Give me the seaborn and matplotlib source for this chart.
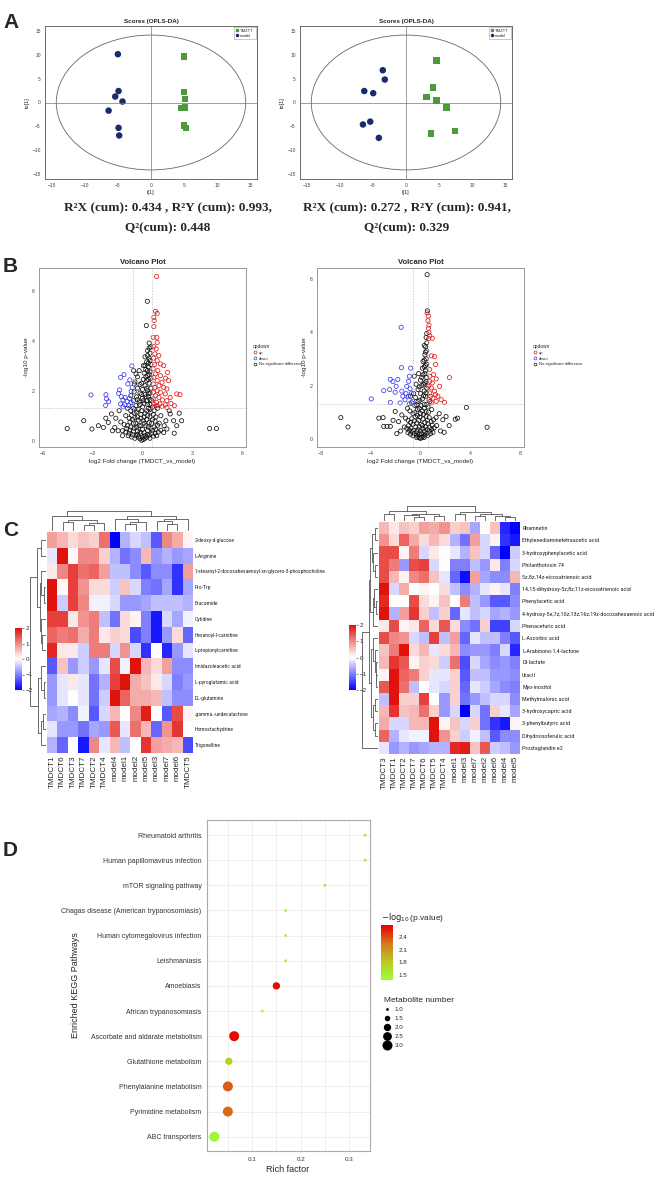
import numpy as np
import pandas as pd
import matplotlib
matplotlib.use('Agg')
import matplotlib.pyplot as plt
import seaborn as sns
from matplotlib import font_manager
from matplotlib.patches import Ellipse
from matplotlib.lines import Line2D
from matplotlib.colors import LinearSegmentedColormap, Normalize

sns.set_style('white')
plt.rcParams['font.family'] = ['Liberation Sans', 'DejaVu Sans']

# ---------------- data ----------------
# A: OPLS-DA scores
a1_model = [(-5.0, 10.1), (-4.9, 2.4), (-5.4, 1.25), (-4.3, 0.2), (-6.4, -1.7), (-4.9, -5.3), (-4.8, -6.9)]
a1_tmztt = [(5.0, 9.6), (4.95, 2.2), (5.1, 0.7), (4.5, -1.2), (5.1, -1.0), (4.95, -4.8), (5.3, -5.3)]
a2_model = [(-3.5, 6.75), (-3.2, 4.8), (-6.3, 2.4), (-4.95, 1.95), (-5.4, -4.0), (-6.5, -4.6), (-4.1, -7.4)]
a2_tmztt = [(4.6, 8.8), (4.1, 3.1), (3.1, 1.2), (4.6, 0.4), (6.1, -1.0), (7.4, -6.0), (3.8, -6.5)]
a_captions = [("R²X (cum): 0.434 , R²Y (cum): 0.993,", "Q²(cum): 0.448"),
              ("R²X (cum): 0.272 , R²Y (cum): 0.941,", "Q²(cum): 0.329")]

# B: volcano plots (log2FC, -log10 p)
v1_up = [(0.84, 6.56), (0.78, 5.17), (0.88, 5.09), (0.68, 4.93), (0.70, 4.8), (0.68, 4.56), (0.86, 4.13),
         (0.64, 4.13), (0.88, 3.93), (0.68, 3.76), (0.82, 3.67), (0.74, 3.47), (0.98, 3.4), (0.66, 3.3),
         (0.88, 3.2), (1.07, 3.07), (0.72, 3.04), (0.64, 2.87), (0.92, 2.8), (1.27, 3.0), (1.5, 2.73),
         (0.78, 2.67), (1.07, 2.6), (0.68, 2.53), (1.37, 2.5), (0.88, 2.4), (1.17, 2.33), (1.56, 2.4),
         (0.64, 2.27), (0.98, 2.2), (0.74, 2.13), (1.27, 2.13), (1.46, 2.07), (0.88, 2.0), (0.64, 1.93),
         (1.07, 1.93), (1.37, 1.87), (2.05, 1.87), (2.25, 1.84), (0.78, 1.8), (0.98, 1.73), (1.66, 1.73),
         (0.64, 1.67), (1.19, 1.63), (1.46, 1.6), (0.84, 1.53), (1.04, 1.47), (0.68, 1.47), (1.7, 1.49),
         (1.37, 1.43), (1.91, 1.4), (0.88, 1.4), (0.72, 1.36), (1.17, 1.37), (1.46, 1.33)]
v1_down = [(-0.64, 2.99), (-1.11, 2.64), (-1.31, 2.53), (-0.76, 2.43), (-0.88, 2.27), (-1.37, 2.03),
           (-0.62, 2.13), (-0.68, 1.97), (-1.43, 1.89), (-2.19, 1.84), (-3.09, 1.83), (-1.27, 1.76),
           (-1.04, 1.73), (-0.78, 1.69), (-2.15, 1.67), (-1.17, 1.63), (-0.92, 1.57), (-0.68, 1.53),
           (-2.03, 1.56), (-1.31, 1.47), (-1.07, 1.44), (-0.82, 1.4), (-2.21, 1.41), (-0.62, 1.37), (-1.17, 1.36)]
v1_ns = [(-0.05, 0.02), (0.05, 0.05), (-0.15, 0.08), (0.15, 0.1), (0.0, 0.12), (-0.25, 0.15), (0.25, 0.15),
         (-0.4, 0.2), (0.4, 0.22), (-0.6, 0.25), (0.55, 0.28), (-0.8, 0.3), (0.75, 0.3), (-1.0, 0.35),
         (0.95, 0.35), (-1.2, 0.4), (1.1, 0.42), (-0.1, 0.3), (0.1, 0.32), (-0.3, 0.38), (0.3, 0.4),
         (0.0, 0.45), (-0.5, 0.5), (0.5, 0.5), (-0.7, 0.55), (0.7, 0.55), (-0.9, 0.6), (0.9, 0.62),
         (-1.1, 0.65), (1.0, 0.7), (-1.3, 0.75), (-0.2, 0.6), (0.2, 0.6), (-0.4, 0.7), (0.4, 0.72),
         (0.05, 0.8), (-0.6, 0.85), (0.6, 0.85), (-0.8, 0.9), (0.8, 0.95), (-0.3, 0.95), (0.3, 1.0),
         (-1.0, 1.0), (1.1, 1.0), (-0.1, 1.05), (0.15, 1.1), (-0.5, 1.1), (0.5, 1.15), (-0.7, 1.2),
         (0.7, 1.2), (-0.25, 1.25), (0.35, 1.3), (0.0, 1.35), (-0.9, 1.3), (0.9, 1.3), (-0.4, 1.4),
         (0.45, 1.45), (0.1, 1.5), (-0.2, 1.55), (0.25, 1.6), (-0.55, 1.6), (0.55, 1.6), (0.0, 1.7),
         (-0.35, 1.75), (0.35, 1.75), (-0.7, 1.8), (0.15, 1.85), (-0.15, 1.9), (0.45, 1.9), (-0.5, 1.95),
         (0.3, 2.0), (0.0, 2.05), (-0.3, 2.1), (0.5, 2.1), (0.15, 2.2), (-0.15, 2.25), (0.4, 2.3),
         (-0.45, 2.35), (0.25, 2.4), (0.05, 2.45), (0.5, 2.5), (-0.3, 2.55), (0.3, 2.6), (0.1, 2.7),
         (0.45, 2.75), (-0.2, 2.8), (0.2, 2.85), (0.35, 2.95), (0.05, 3.0), (0.5, 3.05), (0.25, 3.15),
         (0.4, 3.3), (0.15, 3.35), (0.45, 3.5), (0.3, 3.6), (0.5, 3.75), (0.4, 3.9),
         (-0.45, 0.1), (0.45, 0.1), (-0.65, 0.15), (0.65, 0.18), (-0.85, 0.2), (0.85, 0.2), (-0.3, 0.25),
         (0.3, 0.25), (-0.15, 0.35), (0.15, 0.2), (-0.55, 0.38), (0.6, 0.4), (-0.75, 0.42), (0.8, 0.45),
         (-0.95, 0.48), (-0.35, 0.55), (0.35, 0.55), (-0.1, 0.6), (0.1, 0.7), (-0.55, 0.7), (0.55, 0.7),
         (-0.75, 0.75), (0.75, 0.78), (-0.25, 0.82), (0.25, 0.85), (-0.45, 0.92), (0.45, 0.95), (-0.1, 0.9),
         (0.1, 0.95), (-0.65, 1.02), (0.65, 1.05), (-0.35, 1.15), (0.25, 1.2), (-0.05, 1.2), (0.45, 1.25),
         (-0.55, 1.3), (0.6, 1.35), (-0.15, 1.45), (0.3, 1.45), (0.05, 1.6), (0.45, 1.65), (-0.3, 1.65),
         (0.2, 1.75), (-0.05, 1.85), (0.35, 1.9), (0.25, 2.1), (-0.05, 2.3), (0.35, 2.45), (0.2, 2.55),
         (0.4, 2.65), (0.3, 2.8), (0.15, 3.0), (0.35, 3.1), (0.45, 3.2), (0.3, 3.4), (0.4, 3.7),
         (0.29, 5.57), (0.23, 4.6), (-4.51, 0.49), (-3.52, 0.8), (-3.03, 0.47), (4.02, 0.49), (4.43, 0.49),
         (-2.64, 0.6), (-2.05, 0.73), (-2.34, 0.53), (-1.86, 1.07), (-1.66, 0.53), (-1.46, 0.4), (1.66, 1.07),
         (1.86, 0.8), (2.05, 0.6), (2.34, 0.8), (1.46, 0.47), (1.27, 0.33), (-0.49, 2.27), (-0.39, 2.67),
         (-0.53, 2.8), (-1.6, 0.9), (-1.4, 1.2), (1.4, 0.8), (1.6, 1.2), (-2.2, 0.9), (2.2, 1.1),
         (-1.2, 0.2), (1.3, 0.6), (-1.8, 0.4), (1.9, 0.3)]

v2_up = [(0.53, 4.72), (0.63, 4.6), (0.6, 4.43), (0.68, 4.26), (0.63, 4.14), (0.68, 3.99), (0.74, 3.86),
         (0.66, 3.76), (0.95, 3.77), (0.87, 3.11), (1.13, 3.08), (1.21, 2.79), (2.32, 2.3), (0.74, 2.6),
         (1.05, 2.41), (1.26, 2.25), (0.74, 2.16), (1.53, 1.97), (0.87, 1.91), (1.13, 1.79), (1.39, 1.6),
         (1.92, 1.37), (0.74, 1.72), (1.0, 1.53), (0.68, 1.47), (1.26, 1.41), (0.87, 1.35), (1.66, 1.47),
         (0.63, 1.97), (0.74, 2.35), (0.95, 2.1), (1.21, 1.66), (0.82, 1.6)]
v2_down = [(-1.55, 4.18), (-1.53, 2.67), (-0.79, 2.65), (-0.89, 2.35), (-2.42, 2.23), (-2.21, 2.15),
           (-1.82, 2.23), (-0.95, 2.16), (-2.95, 1.81), (-2.47, 1.85), (-2.03, 1.75), (-1.5, 1.79),
           (-0.84, 1.88), (-1.1, 1.97), (-0.71, 1.72), (-3.95, 1.5), (-2.42, 1.37), (-1.42, 1.6),
           (-1.24, 1.47), (-0.97, 1.6), (-0.63, 1.41), (-1.63, 1.35), (-0.89, 1.32), (-1.16, 1.7), (-1.95, 1.97)]
v2_ns = [(0.0, 0.02), (-0.1, 0.05), (0.1, 0.06), (-0.2, 0.1), (0.2, 0.1), (-0.35, 0.15), (0.35, 0.15),
         (-0.5, 0.2), (0.5, 0.22), (-0.7, 0.28), (0.7, 0.3), (-0.9, 0.33), (0.9, 0.36), (-1.1, 0.4),
         (1.1, 0.42), (-1.3, 0.45), (1.3, 0.5), (0.0, 0.3), (-0.2, 0.35), (0.2, 0.38), (-0.4, 0.45),
         (0.4, 0.45), (0.05, 0.55), (-0.6, 0.55), (0.6, 0.58), (-0.8, 0.62), (0.85, 0.65), (-1.0, 0.7),
         (1.05, 0.72), (-1.2, 0.78), (1.25, 0.8), (-0.15, 0.7), (0.2, 0.75), (-0.4, 0.82), (0.45, 0.85),
         (0.0, 0.95), (-0.6, 0.95), (0.65, 1.0), (-0.85, 1.05), (0.9, 1.1), (-0.25, 1.1), (0.3, 1.15),
         (-1.05, 1.15), (0.05, 1.25), (-0.45, 1.25), (0.5, 1.3), (-0.7, 1.35), (0.75, 1.4), (-0.2, 1.4),
         (0.15, 1.5), (-0.4, 1.55), (0.4, 1.6), (0.0, 1.7), (-0.55, 1.7), (0.3, 1.8), (-0.2, 1.85),
         (0.5, 1.9), (0.1, 2.0), (-0.35, 2.05), (0.35, 2.1), (0.0, 2.2), (0.5, 2.3), (0.2, 2.4),
         (-0.15, 2.45), (0.4, 2.55), (0.3, 2.7), (0.5, 2.8), (0.2, 2.9), (0.45, 3.0), (0.35, 3.15),
         (0.5, 3.3), (0.4, 3.45), (0.5, 3.6), (0.45, 3.8), (0.55, 4.8),
         (-0.3, 0.05), (0.3, 0.06), (-0.6, 0.12), (0.6, 0.14), (-0.8, 0.18), (0.8, 0.2), (-1.0, 0.24),
         (1.0, 0.25), (-0.1, 0.18), (0.1, 0.2), (-0.3, 0.27), (0.3, 0.28), (-0.55, 0.33), (0.55, 0.36),
         (-0.75, 0.4), (0.75, 0.42), (-0.95, 0.5), (0.95, 0.52), (-0.1, 0.45), (0.15, 0.5), (-0.3, 0.6),
         (0.35, 0.62), (-0.5, 0.68), (0.55, 0.7), (-0.7, 0.76), (0.7, 0.8), (-0.05, 0.82), (-0.25, 0.88),
         (0.25, 0.92), (-0.45, 1.0), (0.45, 1.02), (0.15, 1.05), (-0.1, 1.15), (-0.3, 1.28), (0.3, 1.3),
         (0.6, 1.2), (-0.05, 1.45), (0.25, 1.62), (0.45, 1.72), (-0.1, 1.95), (0.25, 2.05), (0.45, 2.15),
         (0.1, 2.3), (0.35, 2.45), (0.15, 2.65), (0.4, 2.75), (0.3, 2.95), (0.4, 3.25), (0.3, 3.5), (0.5, 3.95),
         (0.53, 6.15), (-6.39, 0.8), (-5.82, 0.45), (-3.34, 0.78), (-3.0, 0.8), (-2.95, 0.47), (-2.68, 0.47),
         (-2.42, 0.47), (3.68, 1.18), (2.79, 0.74), (2.97, 0.78), (5.34, 0.44), (1.79, 0.72), (2.05, 0.84),
         (-2.03, 1.03), (-1.76, 0.65), (-1.5, 0.9), (-1.6, 0.3), (1.6, 0.3), (1.5, 0.95), (-2.2, 0.7),
         (2.3, 0.5), (-0.8, 1.6), (-0.5, 2.35), (-1.9, 0.2), (1.9, 0.25)]

# C: heatmaps (z-scores)
h1_cols = ['TMDCT1', 'TMDCT6', 'TMDCT3', 'TMDCT7', 'TMDCT2', 'TMDCT4', 'model4', 'model1',
           'model2', 'model5', 'model3', 'model7', 'model6', 'TMDCT5']
h1_rows = ['2-deoxy-d-glucose', 'L-Arginine', '1-stearoyl-2-docosahexaenoyl-sn-glycero-3-phosphocholine',
           'Pro-Trp', 'Erucamide', 'Cytidine', 'Hexanoyl-l-carnitine', 'L-propionylcarnitine',
           'Imidazoleacetic acid', 'L-pyroglutamic acid', 'DL-glutamine', '.gamma.-undecalactone',
           'Homostachydrine', 'Trigonelline']
h1_vals = [
    [0.8, 0.6, 0.3, 0.5, 0.4, 1.2, -2.0, -0.6, -0.3, -0.5, -1.3, 1.0, 0.7, 0.1],
    [-0.2, 2.0, 0.05, 1.0, 1.0, 0.4, -0.6, -1.1, -0.9, 0.6, -0.8, -0.6, -0.8, -0.7],
    [0.2, 1.0, 1.6, 1.2, 1.3, 0.8, -0.5, -0.5, -0.9, -1.3, -0.9, -0.9, -1.6, 0.8],
    [2.0, 0.05, 1.6, 0.9, 0.3, 0.3, -0.4, 0.5, -0.3, -1.0, -1.1, -0.7, -1.6, -0.7],
    [2.0, -0.4, 1.6, 1.0, -0.1, -0.1, -0.3, -0.8, -0.8, -0.7, -0.5, -0.5, -0.5, -0.6],
    [1.6, 1.6, 0.2, 0.9, 1.1, -0.5, -1.1, 0.3, 0.1, -1.0, -1.8, -0.3, -0.7, -0.1],
    [1.3, 1.1, 1.2, 0.7, 1.1, 0.2, 0.4, 0.3, -1.4, -1.0, -1.8, -0.8, 0.3, -1.2],
    [1.8, 0.2, 0.2, -0.4, 1.1, 1.1, -0.3, 0.9, -0.3, -1.6, 0.0, -1.7, -0.8, -0.2],
    [-1.3, 0.5, -0.8, -0.4, -0.8, -0.2, 1.5, -0.1, 2.0, 0.6, 0.3, 0.8, -0.9, -0.9],
    [-0.8, -0.2, 0.2, -0.2, -1.1, -0.6, 1.6, 2.0, 0.7, 0.5, 0.2, -0.3, -1.0, -0.8],
    [-0.8, -0.2, 0.0, -0.2, -1.1, -0.4, 2.0, 1.3, 0.7, 0.7, 0.6, -0.5, -0.9, -0.9],
    [-0.7, -0.6, -0.9, -0.1, -1.3, -0.3, 0.6, 0.0, 1.0, 1.9, 0.0, -1.3, 1.5, 0.1],
    [-0.2, -0.8, -0.8, -1.1, -0.7, -0.8, 1.4, -0.2, 1.2, 0.6, -1.2, 0.9, 1.7, 0.0],
    [-0.6, -1.2, 0.0, -1.8, 1.0, -0.2, 0.6, -0.5, 0.0, 1.7, 0.8, 0.7, 0.6, -1.4],
]
h1_coltree = (((0, ((1, 2, 0.45), ((3, 4, 0.3), 5, 0.4), 0.55), 0.75)),
              ((6, ((7, 8, 0.35), 9, 0.45), 0.6), ((10, (11, 12, 0.35), 0.5), 13, 0.6), 0.72), 1.0)
h1_rowtree = ((((0, 1, 0.3), ((2, (3, 4, 0.15), 0.3), (5, (6, 7, 0.25), 0.3), 0.4), 0.55)),
              ((8, (9, 10, 0.15), 0.3), ((11, 12, 0.2), 13, 0.35), 0.5), 1.0)

h2_cols = ['TMDCT3', 'TMDCT1', 'TMDCT2', 'TMDCT7', 'TMDCT6', 'TMDCT5', 'TMDCT4', 'model1',
           'model3', 'model7', 'model2', 'model6', 'model4', 'model5']
h2_rows = ['Rhamnetin', 'Ethylenediaminetetraacetic acid', '3-hydroxyphenylacetic acid', 'Philanthotoxin 74',
           '5z,8z,14z-eicosatrienoic acid', '14,15-dihydroxy-5z,8z,11z-eicosatrienoic acid', 'Phenylacetic acid',
           '4-hydroxy-5e,7z,10z,13z,16z,19z-docosahexaenoic acid', 'Phenaceturic acid', 'L-Ascorbic acid',
           'L-Arabinono-1,4-lactone', 'Dl-lactate', 'Uracil', 'Myo-inositol', 'Methylmalonic acid',
           '3-hydroxycapric acid', '3-phenylbutyric acid', 'Dihydroisoferulic acid', 'Prostaglandin e2']
h2_vals = [
    [0.6, 0.2, 0.5, 0.4, 0.8, 0.7, 0.9, 0.4, 0.5, -0.7, 0.0, 0.5, -1.7, -2.0],
    [0.9, 0.3, 1.3, 0.7, 0.3, 0.6, 0.3, -0.6, -1.1, 0.8, -0.3, 0.1, -1.6, -1.8],
    [1.5, 1.5, 0.1, 1.1, -0.3, 0.2, 0.0, -0.2, -0.6, 0.5, -0.3, -1.2, -2.0, -0.4],
    [1.5, 1.1, -0.8, 1.5, 1.6, -0.3, 0.0, -1.0, -1.0, -0.5, -0.8, 0.2, -1.0, -0.3],
    [1.5, 0.6, 0.1, 1.0, 1.2, 0.5, -0.2, -1.2, -1.9, 0.8, -0.7, -0.9, -0.9, 0.6],
    [2.0, -0.3, 0.7, 0.0, 0.1, 0.0, 0.3, -0.5, -0.9, -0.6, -0.2, 0.1, -0.2, -1.0],
    [1.8, 0.0, 0.0, 1.5, 0.3, 0.1, 0.5, 0.0, 1.1, -0.5, -0.8, -1.3, -1.3, -0.9],
    [2.0, -0.6, 0.8, 1.7, 0.4, -0.5, 0.4, -1.2, -0.2, -0.5, -0.3, -0.7, -0.6, -0.8],
    [0.2, 1.5, 0.1, 0.2, 1.3, 0.3, 1.4, 0.3, -0.9, -1.1, 0.4, -1.5, -1.5, -0.3],
    [1.5, 1.0, 0.9, -0.3, -0.5, 1.6, -0.5, 0.8, -1.2, -0.2, -0.5, -0.5, -1.0, -1.3],
    [0.5, 1.1, 2.0, 0.3, 0.6, -0.2, 0.3, 0.6, -0.9, -0.8, -0.8, -1.0, -0.3, -1.7],
    [0.6, 1.7, 1.4, 0.1, 0.4, 0.3, -0.4, 1.2, -1.4, -0.3, -0.7, -0.9, -0.8, -1.0],
    [0.1, 2.0, 1.3, 1.1, 0.4, -0.2, -0.2, 0.4, -1.3, -0.5, -0.5, -0.8, -0.8, -0.9],
    [1.4, 2.0, 1.2, -0.5, 0.0, -0.2, -0.3, 0.4, -1.2, -0.2, -0.4, -0.7, -0.9, -1.0],
    [-0.5, 2.0, 0.4, 0.4, 1.6, 0.0, -0.8, 0.4, -1.1, -0.8, -0.5, -0.3, -0.3, -0.9],
    [0.6, 1.7, 0.5, 0.6, 1.2, 0.4, -0.8, -0.3, -2.0, -0.3, -1.1, 0.4, -0.2, -0.7],
    [0.7, -0.3, -0.3, 0.6, 0.6, 2.0, 0.1, 0.5, -0.3, 0.4, -1.1, -1.6, -1.8, 0.1],
    [1.3, -0.6, -0.2, -0.1, -0.1, 2.0, 0.9, 0.4, -0.4, -0.1, -0.5, -1.3, -0.9, -0.9],
    [-0.2, -0.8, -0.6, -0.8, -0.7, -0.6, -0.6, 1.8, 1.9, 0.5, 1.4, -0.4, -0.5, -0.8],
]
h2_coltree = (((0, 1, 0.5), ((2, (3, 4, 0.3), 0.4), (5, 6, 0.35), 0.5), 0.7),
              ((7, 8, 0.45), ((9, 10, 0.35), (11, (12, 13, 0.25), 0.35), 0.5), 0.65), 1.0)
h2_rowtree = ((((((0, 1, 0.2), (2, (3, 4, 0.2), 0.3), 0.4), ((5, (6, 7, 0.15), 0.25), 8, 0.35), 0.5),
                ((9, (10, (11, (12, 13, 0.1), 0.15), 0.2), 0.3), ((14, 15, 0.2), (16, 17, 0.2), 0.35), 0.45),
                0.6), 18, 1.0))

# D: KEGG enrichment (bottom to top)
kegg_path = ['ABC transporters', 'Pyrimidine metabolism', 'Phenylalanine metabolism', 'Glutathione metabolism',
             'Ascorbate and aldarate metabolism', 'African trypanosomiasis', 'Amoebiasis', 'Leishmaniasis',
             'Human cytomegalovirus infection', 'Chagas disease (American trypanosomiasis)',
             'mTOR signaling pathway', 'Human papillomavirus infection', 'Rheumatoid arthritis']
kegg_rich = [0.022, 0.05, 0.05, 0.052, 0.063, 0.121, 0.15, 0.169, 0.169, 0.169, 0.25, 0.333, 0.333]
kegg_logp = [1.45, 2.3, 2.35, 1.75, 2.65, 1.42, 2.65, 1.45, 1.45, 1.45, 1.55, 1.6, 1.6]
kegg_num = [3, 3, 3, 2, 3, 1, 2, 1, 1, 1, 1, 1, 1]

# narrow font for heatmap row names if there is one
installed = {f.name for f in font_manager.fontManager.ttflist}
row_font = ['Liberation Sans']
for cand in ['Liberation Sans Narrow', 'Roboto Condensed', 'Open Sans Condensed']:
    if cand in installed:
        row_font = [cand]
        break

# ---------------- layout helpers ----------------
W, H = 659, 1177
fig = plt.figure(figsize=(W / 100, H / 100), dpi=100)


def box(x0, y0, x1, y1):
    return fig.add_axes([x0 / W, 1 - y1 / H, (x1 - x0) / W, (y1 - y0) / H])


def ftext(x, y, s, **kw):
    fig.text(x / W, 1 - y / H, s, **kw)


for lab, yy in [('A', 23), ('B', 266), ('C', 531), ('D', 850)]:
    ftext(3, yy, lab, fontsize=15, fontweight='bold', va='center', ha='left')

# ---------------- A ----------------
a_sets = [(a1_model, a1_tmztt, (45, 26, 257, 179), 168), (a2_model, a2_tmztt, (300, 26, 512, 179), 407)]
for i, (mod, tz, rect, cx) in enumerate(a_sets):
    ax = box(*rect)
    df = pd.DataFrame(tz + mod, columns=['t1', 'to1'])
    df['group'] = ['TMZTT'] * len(tz) + ['model'] * len(mod)
    ax.add_patch(Ellipse((0, 0), 28.6, 28.2, fill=False, ec='#666666', lw=0.6))
    ax.axhline(0, color='#777777', lw=0.5)
    ax.axvline(0, color='#777777', lw=0.5)
    sns.scatterplot(data=df, x='t1', y='to1', hue='group', style='group',
                    markers={'TMZTT': 's', 'model': 'o'},
                    palette={'TMZTT': '#4c9a3c', 'model': '#1b2a6b'},
                    s=22, linewidth=0, ax=ax, legend=False)
    ax.set_xlim(-16, 16)
    ax.set_ylim(-16, 16)
    ax.set_xticks([-15, -10, -5, 0, 5, 10, 15])
    ax.set_yticks([-15, -10, -5, 0, 5, 10, 15])
    ax.tick_params(labelsize=3.5, length=1.5, width=0.4, colors='#444444', pad=1.5)
    ax.set_xlabel('t[1]', fontsize=4, labelpad=1.5)
    ax.set_ylabel('to[1]', fontsize=4, labelpad=1.5)
    ax.set_title('Scores (OPLS-DA)', fontsize=4.5, fontweight='bold', pad=2.5)
    for sp in ax.spines.values():
        sp.set_color('#555555')
        sp.set_linewidth(0.6)
    hnd = [Line2D([], [], marker='s', ls='', color='#4c9a3c', ms=1.5),
           Line2D([], [], marker='o', ls='', color='#1b2a6b', ms=1.5)]
    lg = ax.legend(hnd, ['TMZTT', 'model'], loc='upper right', fontsize=3, frameon=True,
                   borderpad=0.4, handletextpad=0.4, labelspacing=0.2, fancybox=False,
                   borderaxespad=0.3, handlelength=0.8)
    lg.get_frame().set_linewidth(0.4)
    lg.get_frame().set_edgecolor('#888888')
    l1, l2 = a_captions[i]
    ftext(cx, 208, l1, fontsize=9.5, fontweight='bold', family='Liberation Serif', ha='center', va='center')
    ftext(cx, 228, l2, fontsize=9.5, fontweight='bold', family='Liberation Serif', ha='center', va='center')

# ---------------- B ----------------
v_sets = [(v1_up, v1_down, v1_ns, (39, 268, 246, 447), (-6.2, 6.2), [-6, -3, 0, 3, 6], (-0.25, 6.9), 249),
          (v2_up, v2_down, v2_ns, (317, 268, 524, 447), (-8.3, 8.3), [-8, -4, 0, 4, 8], (-0.3, 6.4), 529)]
vcols = {'up': '#e31a1c', 'down': '#3a3af0', 'No significant difference': '#111111'}
for up, down, ns, rect, xl, xt, yl, lx in v_sets:
    ax = box(*rect)
    ax.axvline(-0.585, color='#bbbbbb', lw=0.5, ls=(0, (2, 2)))
    ax.axvline(0.585, color='#bbbbbb', lw=0.5, ls=(0, (2, 2)))
    ax.axhline(1.301, color='#bbbbbb', lw=0.5, ls=(0, (2, 2)))
    for key, pts in [('No significant difference', ns), ('down', down), ('up', up)]:
        d = pd.DataFrame(pts, columns=['fc', 'p'])
        sns.scatterplot(data=d, x='fc', y='p', color=vcols[key], s=9, linewidth=0.55, ax=ax, legend=False)
        coll = ax.collections[-1]
        coll.set_facecolor('none')
        coll.set_edgecolor(vcols[key])
    ax.set_xlim(*xl)
    ax.set_ylim(*yl)
    ax.set_xticks(xt)
    ax.set_yticks([0, 2, 4, 6])
    ax.tick_params(labelsize=3.8, length=1.5, width=0.4, colors='#444444', pad=1.5)
    ax.set_xlabel('log2 Fold change (TMDCT_vs_model)', fontsize=4.5, labelpad=2)
    ax.set_ylabel('-log10 p-value', fontsize=4.5, labelpad=2)
    ax.set_title('Volcano Plot', fontsize=5.5, fontweight='bold', pad=3)
    for sp in ax.spines.values():
        sp.set_color('#999999')
        sp.set_linewidth(0.7)
    hnd = [Line2D([], [], marker='o', ls='', mfc='none', mec=vcols[k], ms=2, mew=0.5) for k in vcols]
    fig.legend(hnd, list(vcols), title='updown', loc='upper left', bbox_to_anchor=(lx / W, 1 - 340 / H),
               fontsize=3, title_fontsize=3.5, frameon=False, handletextpad=0.4, labelspacing=0.45,
               alignment='left', handlelength=1.0)

# ---------------- C ----------------
hcmap = LinearSegmentedColormap.from_list('bwr2', ['#0000ff', '#ffffff', '#e0120c'])


def dendro(ax, node, rows=False):
    if isinstance(node, int):
        return node + 0.5, 0.0
    p1, h1 = dendro(ax, node[0], rows)
    p2, h2 = dendro(ax, node[1], rows)
    h = node[2]
    ps = [p1, p1, p2, p2]
    hs = [h1, h, h, h2]
    if rows:
        ax.plot(hs, ps, color='#555555', lw=0.6)
    else:
        ax.plot(ps, hs, color='#555555', lw=0.6)
    return (p1 + p2) / 2, h


h_sets = [(h1_vals, h1_rows, h1_cols, h1_coltree, h1_rowtree, 47, 532, 193, 753, 510, 30, (15, 628, 22, 690)),
          (h2_vals, h2_rows, h2_cols, h2_coltree, h2_rowtree, 379, 522, 520, 754, 506, 362, (349, 625, 356, 690))]
heat_axes = []
for vals, rows, cols, ctree, rtree, x0, y0, x1, y1, dtop, dleft, crect in h_sets:
    ax = box(x0, y0, x1, y1)
    heat_axes.append(ax)
    cax = box(*crect)
    df = pd.DataFrame(vals, index=rows, columns=cols)
    sns.heatmap(df, ax=ax, cmap=hcmap, vmin=-2, vmax=2, cbar_ax=cax, linewidths=0,
                xticklabels=True, yticklabels=True)
    ax.yaxis.tick_right()
    ax.tick_params(length=0, pad=1.5)
    ax.set_yticklabels(rows, rotation=0, fontsize=5.5, family=row_font)
    ax.set_xticklabels(cols, rotation=90, fontsize=5.8)
    ax.set_xlabel('')
    ax.set_ylabel('')
    cax.tick_params(labelsize=4.5, length=1.5, width=0.4, pad=1)
    cax.set_yticks([-2, -1, 0, 1, 2])
    cb = ax.collections[0].colorbar
    cb.outline.set_visible(False)
    dax = box(x0, dtop, x1, y0 - 1)
    dendro(dax, ctree)
    dax.set_xlim(0, len(cols))
    dax.set_ylim(0, 1.03)
    dax.axis('off')
    rax = box(dleft, y0, x0 - 1, y1)
    dendro(rax, rtree, rows=True)
    rax.set_ylim(len(rows), 0)
    rax.set_xlim(1.03, 0)
    rax.axis('off')

# shrink row names so the longest one keeps to the width it has in the figure
fig.canvas.draw()
rend = fig.canvas.get_renderer()
for ax in heat_axes:
    labs = ax.get_yticklabels()
    widest = max(t.get_window_extent(rend).width for t in labs)
    fs = min(5.5, 5.5 * 132 / widest)
    for t in labs:
        t.set_fontsize(fs)

# ---------------- D ----------------
kcmap = LinearSegmentedColormap.from_list('gr', ['#99ff33', '#b9c923', '#d8771c', '#e60000'])
knorm = Normalize(1.38, 2.69)
ax = box(207, 820, 370, 1151)
kdf = pd.DataFrame({'path': kegg_path, 'rich': kegg_rich, 'logp': kegg_logp, 'num': kegg_num})
kdf['ypos'] = range(len(kdf))
sns.scatterplot(data=kdf, x='rich', y='ypos', hue='logp', hue_norm=knorm, palette=kcmap,
                size='num', sizes=(4, 52), size_norm=(1, 3), linewidth=0, ax=ax, legend=False, zorder=3)
ax.set_xlim(0.007, 0.343)
ax.set_ylim(-0.57, len(kdf) - 0.4)
ax.set_xticks([0.1, 0.2, 0.3])
ax.set_xticks([0.05, 0.15, 0.25], minor=True)
ax.set_yticks(kdf['ypos'])
ax.set_yticklabels(kdf['path'], fontsize=5)
ax.tick_params(axis='x', labelsize=4.5)
ax.tick_params(length=2, width=0.4, colors='#333333', pad=2)
ax.tick_params(which='minor', length=0)
ax.grid(True, which='both', color='#ebebeb', lw=0.6)
ax.set_axisbelow(True)
ax.set_xlabel('')
ax.set_ylabel('')
for sp in ax.spines.values():
    sp.set_color('#aaaaaa')
    sp.set_linewidth(0.8)
ftext(288, 1169, 'Rich factor', fontsize=6.5, ha='center', va='center')
ftext(75, 985, 'Enriched KEGG Pathways', fontsize=6.5, rotation=90, ha='center', va='center')

kcax = box(381, 925, 393, 980)
cb = fig.colorbar(plt.cm.ScalarMappable(norm=knorm, cmap=kcmap), cax=kcax, ticks=[1.5, 1.8, 2.1, 2.4])
cb.outline.set_visible(False)
kcax.tick_params(labelsize=4.5, length=0, pad=4)
ftext(381, 917, r'$-\log_{10}$(p.value)', fontsize=6, ha='left', va='center')

size_vals = [1.0, 1.5, 2.0, 2.5, 3.0]
hnd = [Line2D([], [], marker='o', ls='', color='black', mew=0,
              ms=np.sqrt(4 + (v - 1) / 2 * 48)) for v in size_vals]
fig.legend(hnd, [f'{v:.1f}' for v in size_vals], title='Metabolite number', loc='upper left',
           bbox_to_anchor=(378 / W, 1 - 991 / H), fontsize=4.5, title_fontsize=6, frameon=False,
           alignment='left', handletextpad=0.8, labelspacing=0.55, handlelength=1.0)

fig.savefig('out.png', dpi=100)
